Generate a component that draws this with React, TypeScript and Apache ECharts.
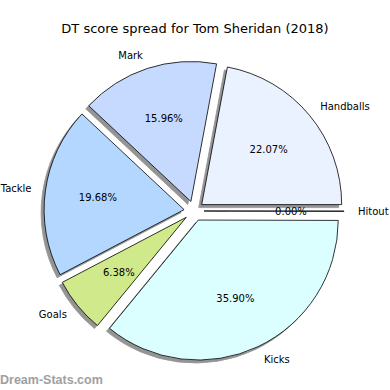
import React, { useEffect, useRef } from 'react';
import * as echarts from 'echarts';

const categories = ['Handballs', 'Mark', 'Tackle', 'Goals', 'Kicks', 'Hitout'];
const values = [22.07, 15.96, 19.68, 6.38, 35.9, 0];
const colors = ['#eaf2ff', '#c6d9ff', '#b4d7ff', '#d0ea8b', '#dbffff', '#ffffff'];
const titleText = 'DT score spread for Tom Sheridan (2018)';
const watermarkText = 'Dream-Stats.com';

export default function App() {
  const ref = useRef<HTMLDivElement>(null);
  useEffect(() => {
    const chart = echarts.init(ref.current!, null, { renderer: 'svg' });
    const total = values.reduce((a, b) => a + b, 0);
    const font = 'DejaVu Sans';
    const center = [194, 211];
    const data = categories.map((name, i) => ({
      name,
      value: values[i],
      selected: true,
      itemStyle: { color: colors[i] },
    }));
    const overlayData = categories.map((name, i) => ({ name, value: values[i], selected: true }));
    chart.setOption({
      animation: false,
      title: [
        {
          text: titleText,
          left: 'center',
          top: 17,
          textStyle: { fontFamily: font, fontSize: 13, fontWeight: 'normal', color: '#000' },
        },
        {
          text: watermarkText,
          left: 0,
          top: 373,
          padding: 0,
          textStyle: { fontFamily: 'Liberation Sans', fontSize: 12.5, fontWeight: 'bold', color: '#a0a0a0' },
        },
      ],
      series: [
        {
          type: 'pie',
          center,
          radius: [0, 140],
          startAngle: 0,
          clockwise: false,
          minAngle: 0.15,
          selectedMode: 'multiple',
          selectedOffset: 10,
          avoidLabelOverlap: false,
          data,
          itemStyle: {
            borderColor: '#000',
            borderWidth: 0.8,
            shadowColor: 'rgba(0,0,0,0.42)',
            shadowOffsetX: -3,
            shadowOffsetY: 3,
            shadowBlur: 0,
          },
          select: { itemStyle: { borderColor: '#000', borderWidth: 0.8 } },
          label: {
            position: 'outside',
            formatter: '{b}',
            fontFamily: font,
            fontSize: 10,
            color: '#000',
            distanceToLabelLine: 0,
          },
          labelLine: { show: false, length: 14, length2: 0 },
          emphasis: { disabled: true },
        },
        {
          type: 'pie',
          center,
          radius: [0, 168],
          startAngle: 0,
          clockwise: false,
          minAngle: 0.15,
          selectedMode: 'multiple',
          selectedOffset: 10,
          avoidLabelOverlap: false,
          silent: true,
          z: 3,
          data: overlayData,
          itemStyle: { color: 'rgba(0,0,0,0)', borderWidth: 0 },
          select: { itemStyle: { color: 'rgba(0,0,0,0)', borderWidth: 0 } },
          label: {
            position: 'inside',
            formatter: (p: any) => ((p.value / total) * 100).toFixed(2) + '%',
            fontFamily: font,
            fontSize: 10,
            color: '#000',
          },
          labelLine: { show: false },
          emphasis: { disabled: true },
        },
      ],
    });
    return () => chart.dispose();
  }, []);
  return <div ref={ref} style={{ position: 'fixed', left: 0, top: 0, width: 390, height: 390, background: '#fff' }} />;
}
